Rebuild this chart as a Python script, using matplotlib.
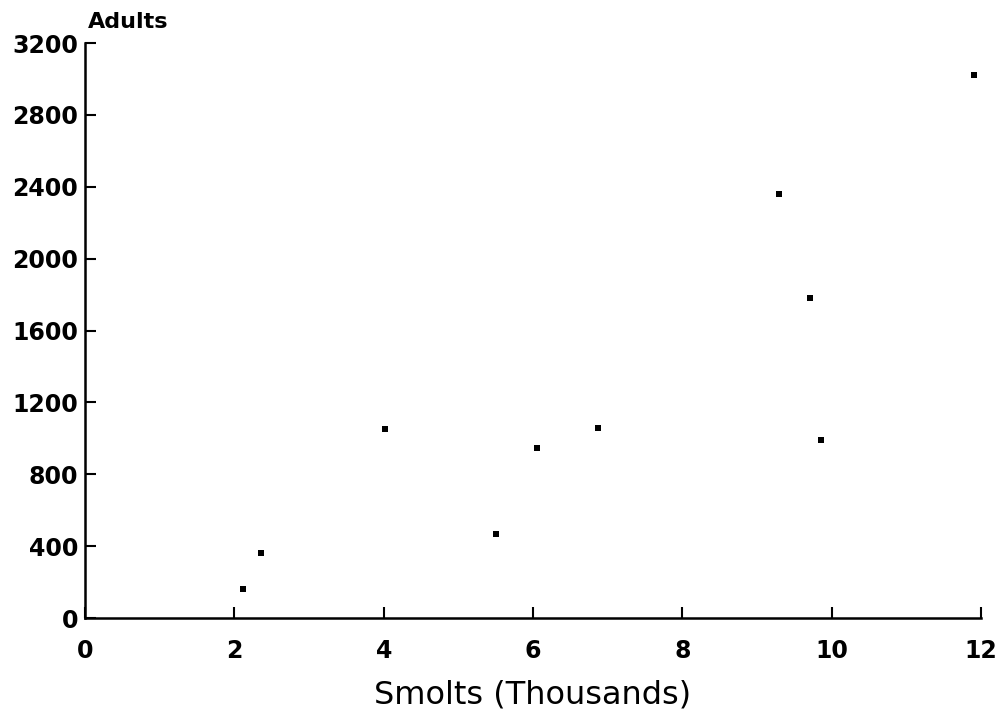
import matplotlib
matplotlib.use("Agg")
import matplotlib.pyplot as plt

# Smolts (thousands) vs adults
smolts = [2.12, 2.36, 4.02, 5.50, 6.05, 6.87, 9.29, 9.71, 9.86, 11.91]
adults = [161, 362, 1052, 467, 946, 1057, 2360, 1781, 990, 3022]

x_ticks = [0, 2, 4, 6, 8, 10, 12]
y_ticks = [0, 400, 800, 1200, 1600, 2000, 2400, 2800, 3200]

plt.rcParams["font.family"] = ["DejaVu Sans"]
plt.rcParams["font.weight"] = "bold"

fig = plt.figure(figsize=(9.97, 7.11), dpi=100)
ax = fig.add_axes([0.0853, 0.1308, 0.8987, 0.8087])

ax.scatter(smolts, adults, s=22, marker="s", color="black", linewidths=0)

ax.set_xlim(0, 12)
ax.set_ylim(0, 3200)
ax.set_xticks(x_ticks)
ax.set_yticks(y_ticks)
ax.tick_params(direction="in", length=8, width=1.5, labelsize=17, pad=5)
ax.tick_params(axis="x", pad=15)
for lab in ax.get_xticklabels() + ax.get_yticklabels():
    lab.set_fontweight("bold")

ax.spines["top"].set_visible(False)
ax.spines["right"].set_visible(False)
ax.spines["left"].set_linewidth(1.8)
ax.spines["bottom"].set_linewidth(1.8)

ax.set_xlabel("Smolts (Thousands)", fontsize=23, fontweight="normal", labelpad=12)
fig.text(0.088, 0.955, "Adults", fontsize=16, fontweight="bold", ha="left", va="bottom")

fig.savefig("out.png", dpi=100)
